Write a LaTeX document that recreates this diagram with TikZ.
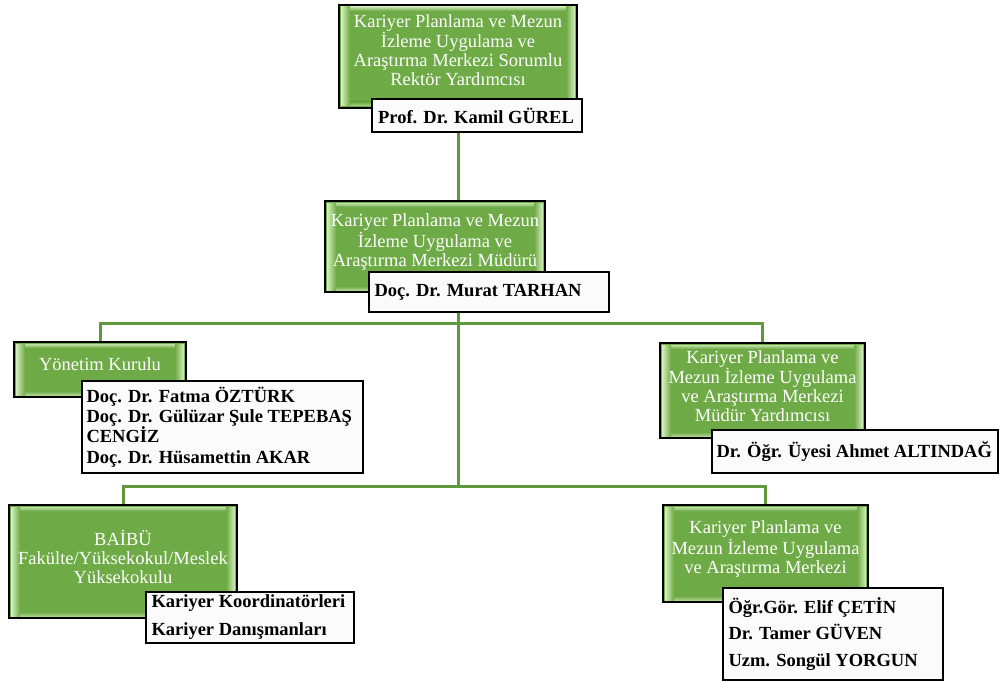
\documentclass[tikz,border=0pt]{standalone}
\usepackage{fontspec}
\setmainfont{Liberation Serif}
\usetikzlibrary{calc,backgrounds}
\definecolor{gfill}{RGB}{110,170,70}
\definecolor{gbevel}{RGB}{214,240,190}
\definecolor{lineg}{RGB}{96,152,60}
\definecolor{wfill}{RGB}{251,251,251}
\begin{document}
\begin{tikzpicture}[x=1pt,y=-1pt,
  gbox/.style={draw=black, line width=1.4pt, fill=gfill, inner sep=0pt,
    path picture={
      \coordinate (ppa) at (path picture bounding box.north west);
      \coordinate (ppb) at (path picture bounding box.south east);
      \shade[top color=gbevel, bottom color=gfill, opacity=0.8] ($(ppa)+(2pt,-2pt)$) rectangle ($(ppb|-ppa)+(-2pt,-6pt)$);
      \shade[top color=gfill, bottom color=gbevel, opacity=0.6] ($(ppa|-ppb)+(2pt,6pt)$) rectangle ($(ppb)+(-2pt,2pt)$);
      \shade[left color=gbevel, right color=gfill] ($(ppa)+(2pt,-2pt)$) rectangle ($(ppa|-ppb)+(11pt,2pt)$);
      \shade[left color=gfill, right color=gbevel] ($(ppb|-ppa)+(-11pt,-2pt)$) rectangle ($(ppb)+(-2pt,2pt)$);
    }},
  gtext/.style={text=white, align=center, font=\fontsize{18.5}{19}\selectfont, inner sep=0pt},
  wbox/.style={draw=black, line width=1.4pt, fill=wfill, inner sep=0pt},
  wtext/.style={text=black, align=left, font=\bfseries\fontsize{18.5}{20.3}\selectfont, inner sep=0pt, anchor=west},
  conn/.style={draw=lineg, line width=3pt}]
\useasboundingbox (0,0) rectangle (1003,682);

% green boxes
\node[gbox, minimum width=238pt, minimum height=103pt] (g1) at (458,56.5) {};
\node[gtext] (g1t) at ($(g1.center)+(0,-6)$) {Kariyer Planlama ve Mezun\\İzleme Uygulama ve\\Araştırma Merkezi Sorumlu\\Rektör Yardımcısı};

\node[gbox, minimum width=220pt, minimum height=91pt] (g2) at (435,246.5) {};
\node[gtext] (g2t) at ($(g2.center)+(0,-4.5)$) {Kariyer Planlama ve Mezun\\İzleme Uygulama ve\\Araştırma Merkezi Müdürü};

\node[gbox, minimum width=172pt, minimum height=55pt] (g3) at (100,369.5) {};
\node[gtext] (g3t) at ($(g3.center)+(0,-5)$) {Yönetim Kurulu};

\node[gbox, minimum width=205pt, minimum height=95pt] (g4) at (762.5,390.5) {};
\node[gtext] (g4t) at ($(g4.center)+(0,-4.5)$) {Kariyer Planlama ve\\Mezun İzleme Uygulama\\ve Araştırma Merkezi\\Müdür Yardımcısı};

\node[gbox, minimum width=228pt, minimum height=113pt] (g5) at (123,561.5) {};
\node[gtext] (g5t) at ($(g5.center)+(0,-4.5)$) {BAİBÜ\\Fakülte/Yüksekokul/Meslek\\Yüksekokulu};

\node[gbox, minimum width=205pt, minimum height=97pt] (g6) at (765.5,553.5) {};
\node[gtext] (g6t) at ($(g6.center)+(0,-4.5)$) {Kariyer Planlama ve\\Mezun İzleme Uygulama\\ve Araştırma Merkezi};

% white boxes
\node[wbox, minimum width=210pt, minimum height=33pt] (w1) at (477,115.5) {};
\node[wtext, anchor=center] (w1t) at ($(w1.center)+(-1,0)$) {Prof. Dr. Kamil GÜREL};

\node[wbox, minimum width=240pt, minimum height=40pt] (w2) at (489,292) {};
\node[wtext] (w2t) at ($(w2.west)+(6,0)$) {Doç. Dr. Murat TARHAN};

\node[wbox, minimum width=281pt, minimum height=92pt] (w3) at (222.5,427) {};
\node[wtext] (w3t) at ($(w3.west)+(5,0)$) {Doç. Dr. Fatma ÖZTÜRK\\Doç. Dr. Gülüzar Şule TEPEBAŞ\\CENGİZ\\Doç. Dr. Hüsamettin AKAR};

\node[wbox, minimum width=286pt, minimum height=43pt] (w4) at (855,451.5) {};
\node[wtext] (w4t) at ($(w4.west)+(5,0)$) {Dr. Öğr. Üyesi Ahmet ALTINDAĞ};

\node[wbox, minimum width=208pt, minimum height=51pt] (w5) at (250,617.5) {};
\node[wtext, font=\bfseries\fontsize{18.5}{28}\selectfont] (w5t) at ($(w5.west)+(6,0)$) {Kariyer Koordinatörleri\\Kariyer Danışmanları};

\node[wbox, minimum width=220pt, minimum height=92pt] (w6) at (833,634) {};
\node[wtext, font=\bfseries\fontsize{18.5}{26.5}\selectfont] (w6t) at ($(w6.west)+(6,0)$) {Öğr.Gör. Elif ÇETİN\\Dr. Tamer GÜVEN\\Uzm. Songül YORGUN};

% connectors
\coordinate (j1) at (458,323);
\coordinate (j2) at (458,486);
\begin{scope}[on background layer]
\draw[conn] (g1.center |- w1.south) -- (g1.center |- g2.north);
\draw[conn] (g1.center |- w2.south) -- (j2);
\draw[conn] (g3.north) |- (j1) -| (g4.north);
\draw[conn] (g5.north) |- (j2) -| (g6.north);
\end{scope}
\end{tikzpicture}
\end{document}
